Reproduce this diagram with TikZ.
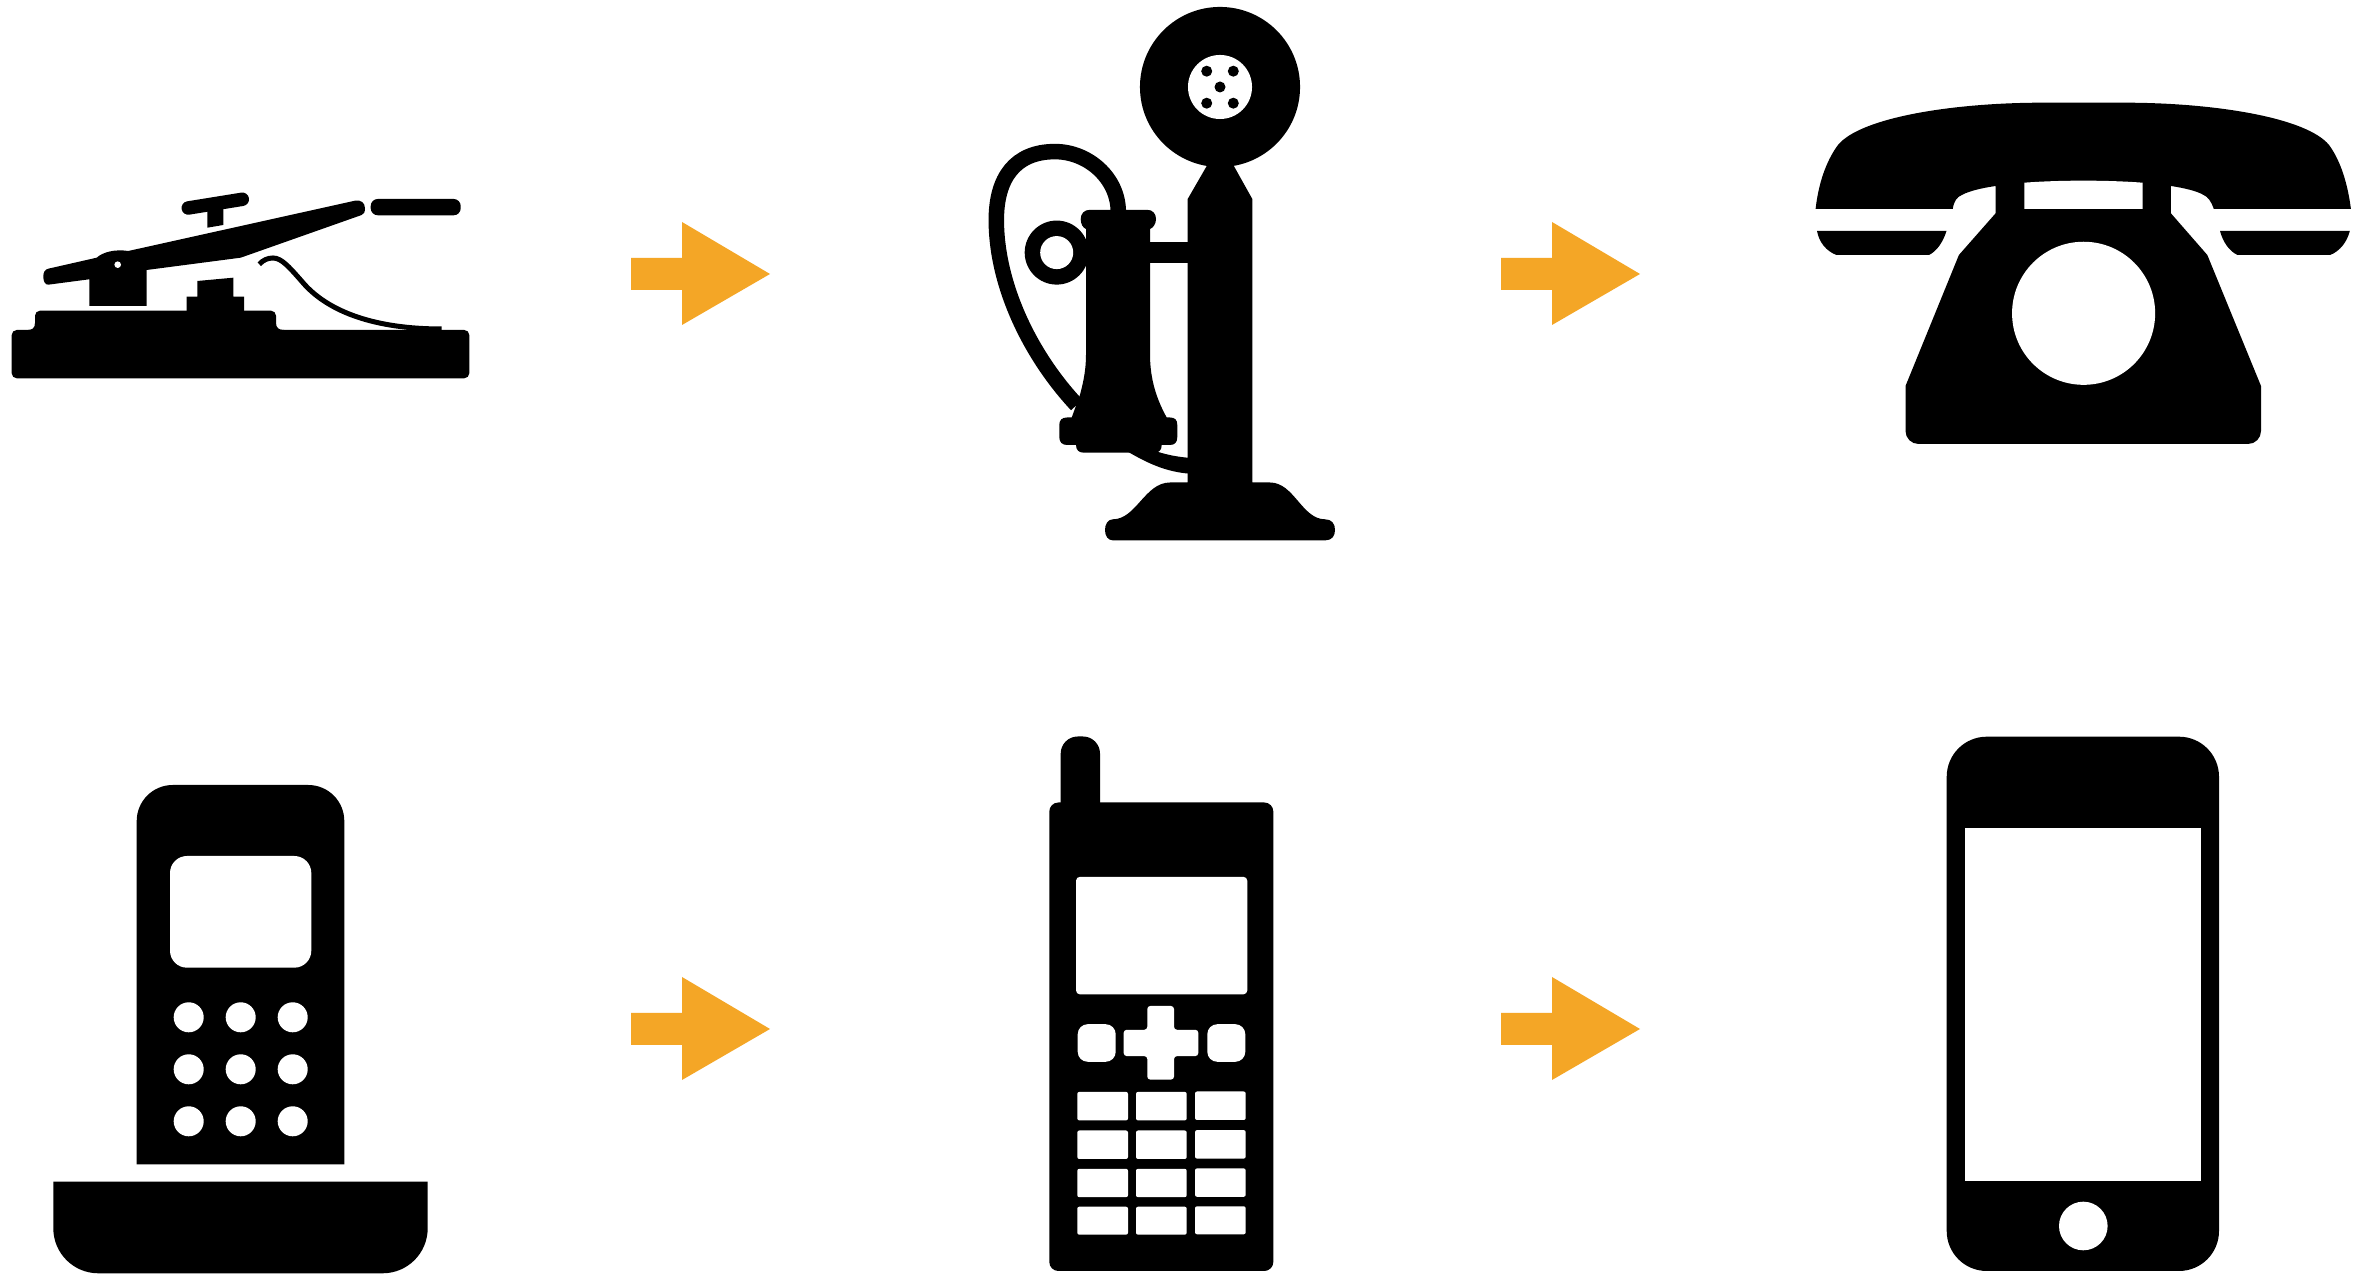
\documentclass[tikz,border=0pt]{standalone}
\definecolor{arroworange}{HTML}{F4A626}
\tikzset{
  solid ink/.style={fill=black,draw=none},
  hole/.style={fill=white,draw=none},
  blockarrow/.pic={\fill[arroworange] (0,-16) -- (51,-16) -- (51,-52) -- (139,0) -- (51,51) -- (51,16) -- (0,16) -- cycle;}
}
\begin{document}
\begin{tikzpicture}[x=0.01cm,y=-0.01cm]
\useasboundingbox (0,0) rectangle (2372,1274);
\fill[white] (0,0) rectangle (2372,1274);
% arrows
\pic at (631,274) {blockarrow};
\pic at (1501,274) {blockarrow};
\pic at (631,1029) {blockarrow};
\pic at (1501,1029) {blockarrow};

% telegraph key
\fill[solid ink,rounded corners=.05cm] (11.7,330) rectangle (469.3,378.3);
\fill[solid ink] (28,332) -- (28,330) .. controls (32,330) and (35,328) .. (35,323) [rounded corners=.05cm] -- (35,310.7) -- (276,310.7) [sharp corners] -- (276,323) .. controls (276,328) and (279,330) .. (284,330) -- (284,332) -- cycle;
\fill[solid ink] (186.7,312) -- (186.7,296.7) -- (197.3,296.7) -- (197.3,281) -- (233.3,277.7) -- (233.3,296.7) -- (244,296.7) -- (244,312) -- cycle;
\fill[solid ink] (43.3,276.7) .. controls (43.3,272) and (45,269.5) .. (48.3,268.7) -- (96.7,257.7) .. controls (103,252) and (115,249) .. (128.3,251) -- (355,200.7) .. controls (361,199.5) and (365,203) .. (365,208.3) .. controls (365,212) and (364,214) .. (361.7,215) -- (240.7,257.7) -- (146.7,270) -- (146.7,306) -- (89.3,306) -- (89.3,279.3) -- (48.3,284.7) .. controls (45,285) and (43.3,281) .. (43.3,276.7) -- cycle;
\fill[hole] (117.7,264.7) circle[radius=.033cm];
\draw[line width=.135cm,line cap=round] (188.3,208) -- (242.3,199.3);
\fill[solid ink] (207.3,205) -- (223.3,205) -- (223.3,225) -- (207.3,227.7) -- cycle;
\fill[solid ink,rounded corners=.07cm] (370.7,199) rectangle (460.7,215.3);
\draw[line width=.05cm] (259.3,264.3) .. controls (263,260) and (268,258) .. (273,258) .. controls (282,258) and (290,268) .. (305,285) .. controls (330,312) and (375,329) .. (441.7,329);

% candlestick phone: cords
\draw[line width=.155cm] (1118.3,212) .. controls (1118.3,178) and (1088,151.6) .. (1055,151.6) .. controls (1015,151.6) and (996.3,178) .. (996.3,220) .. controls (996.3,285) and (1030,355) .. (1076.7,405);
\fill[solid ink] (1125,450) .. controls (1145,462) and (1165,472) .. (1190,473.7) -- (1190,457.9) .. controls (1178,457) and (1168,455) .. (1158.3,452) -- cycle;
% head and stem
\fill[solid ink] (1220,87) circle[radius=.8cm];
\fill[hole] (1220,87) circle[radius=.32cm];
\foreach \dx/\dy in {1206.7/71.2,1233.3/71.2,1220/87,1206.7/103.2,1233.3/103.2}
  \fill[solid ink] (\dx,\dy) circle[radius=.055cm];
\fill[solid ink] (1207.3,160) -- (1233.3,160) -- (1233.3,165) -- (1252.3,199) -- (1252.3,482.5) -- (1270,482.5) .. controls (1294,482.5) and (1302,519.3) .. (1325,519.3) .. controls (1332,519.3) and (1335,524) .. (1335,530) .. controls (1335,536) and (1332,540.4) .. (1325,540.4) -- (1113,540.4) .. controls (1108,540.4) and (1105,536) .. (1105,530) .. controls (1105,524) and (1108,519.3) .. (1113,519.3) .. controls (1136,519.3) and (1145,482.5) .. (1170,482.5) -- (1187.7,482.5) -- (1187.7,199) -- (1207.3,165) -- cycle;
% transmitter
\fill[solid ink] (1150,242) rectangle (1190,263);
\fill[solid ink] (1056.7,252.6) circle[radius=.32cm];
\fill[hole] (1056.7,252.6) circle[radius=.165cm];
\fill[solid ink] (1090,209.8) -- (1147,209.8) .. controls (1153,209.8) and (1156,214) .. (1156,219) .. controls (1156,224) and (1153,228) .. (1150,229) -- (1150,354.4) .. controls (1150,380) and (1157,400) .. (1166.7,417.5) -- (1170,417.5) .. controls (1175,417.5) and (1177.3,420) .. (1177.3,425) -- (1177.3,437) .. controls (1177.3,442) and (1175,445) .. (1170,445) -- (1161.7,445) .. controls (1161.7,450) and (1159,452.6) .. (1155,452.6) -- (1083,452.6) .. controls (1079,452.6) and (1076,450) .. (1076,445) -- (1067,445) .. controls (1062,445) and (1059.3,442) .. (1059.3,437) -- (1059.3,425) .. controls (1059.3,420) and (1062,417.5) .. (1067,417.5) -- (1071.7,417.5) -- (1080,394.7) .. controls (1084,380) and (1086,368) .. (1086,354.4) -- (1086,229) .. controls (1083,228) and (1080.7,224) .. (1080.7,219) .. controls (1080.7,214) and (1084,209.8) .. (1090,209.8) -- cycle;

% rotary phone
\fill[solid ink] (1815.6,209) .. controls (1819,178) and (1829,157) .. (1838,145) .. controls (1860,118) and (1950,103) .. (2040,102.7) -- (2127,102.7) .. controls (2217,103) and (2307,118) .. (2329,145) .. controls (2338,157) and (2347,178) .. (2350.9,209) -- (2213.8,209) .. controls (2211,201) and (2208,197) .. (2203.6,195) .. controls (2197,191) and (2184,188) .. (2170.9,186) -- (2170.9,213.3) -- (2207.3,255) -- (2261,386) [rounded corners=.13cm] -- (2261,444) -- (1905.5,444) [sharp corners] -- (1905.5,386) -- (1958.9,255) -- (1995.6,213.3) -- (1995.6,186) .. controls (1982,188) and (1969,191) .. (1961.8,195) .. controls (1957,197) and (1954,201) .. (1952.7,209) -- cycle;
\fill[hole] (2024.4,182.7) .. controls (2060,180) and (2107,180) .. (2142.5,182.7) -- (2142.5,209) -- (2024.4,209) -- cycle;
\fill[hole] (2083.6,313.3) circle[radius=.715cm];
\fill[solid ink] (1817,231) -- (1946.5,231) .. controls (1943,242) and (1937,251) .. (1929,255) -- (1836.4,255) .. controls (1826,251) and (1819,242) .. (1817,231) -- cycle;
\fill[solid ink] (2220,231) -- (2349.8,231) .. controls (2347,242) and (2340,251) .. (2330.2,255) -- (2237.5,255) .. controls (2229,251) and (2223,242) .. (2220,231) -- cycle;

% cordless handset and cradle
\fill[solid ink] (136.7,1164.3) [rounded corners=.36cm] -- (136.7,785) -- (344.3,785) [sharp corners] -- (344.3,1164.3) -- cycle;
\fill[hole,rounded corners=.17cm] (170,856) rectangle (311.3,967.7);
\foreach \cx in {188.7,240.7,292.7}
  \foreach \cy in {1017.3,1069.3,1121.3}
    \fill[hole] (\cx,\cy) circle[radius=.15cm];
\fill[solid ink] (53.3,1181.7) -- (427.7,1181.7) [rounded corners=.45cm] -- (427.7,1273.3) -- (53.3,1273.3) [sharp corners] -- cycle;

% mobile with antenna
\fill[solid ink,rounded corners=.17cm] (1060.7,830) -- (1060.7,736.5) -- (1100,736.5) -- (1100,830) -- cycle;
\fill[solid ink,rounded corners=.09cm] (1049.3,802.5) rectangle (1273.3,1271);
\fill[hole,rounded corners=.04cm] (1076,876.8) rectangle (1247.3,994.4);
\fill[hole,rounded corners=.1cm] (1077.7,1024.2) rectangle (1115.7,1061.8);
\fill[hole,rounded corners=.1cm] (1207.3,1024.2) rectangle (1245.3,1061.8);
\fill[hole,rounded corners=.03cm] (1147.3,1006) -- (1174,1006) -- (1174,1029.8) -- (1198.3,1029.8) -- (1198.3,1056.1) -- (1174,1056.1) -- (1174,1079.6) -- (1147.3,1079.6) -- (1147.3,1056.1) -- (1123.7,1056.1) -- (1123.7,1029.8) -- (1147.3,1029.8) -- cycle;
\foreach \ya/\yb in {1091.9/1120.4,1130.5/1159,1168.8/1197.2,1206.7/1234.7} {
  \fill[hole,rounded corners=.02cm] (1077.3,\ya) rectangle (1128,\yb);
  \fill[hole,rounded corners=.02cm] (1136,\ya) rectangle (1186.7,\yb);
  \fill[hole,rounded corners=.02cm,yshift=.004cm] (1195,\ya) rectangle (1245.7,\yb);
}

% smartphone
\fill[solid ink,rounded corners=.4cm] (1946.7,736.7) rectangle (2219,1271);
\fill[hole] (1965,827.8) rectangle (2201,1181);
\fill[hole] (2083.3,1226) circle[radius=.243cm];
\end{tikzpicture}
\end{document}
